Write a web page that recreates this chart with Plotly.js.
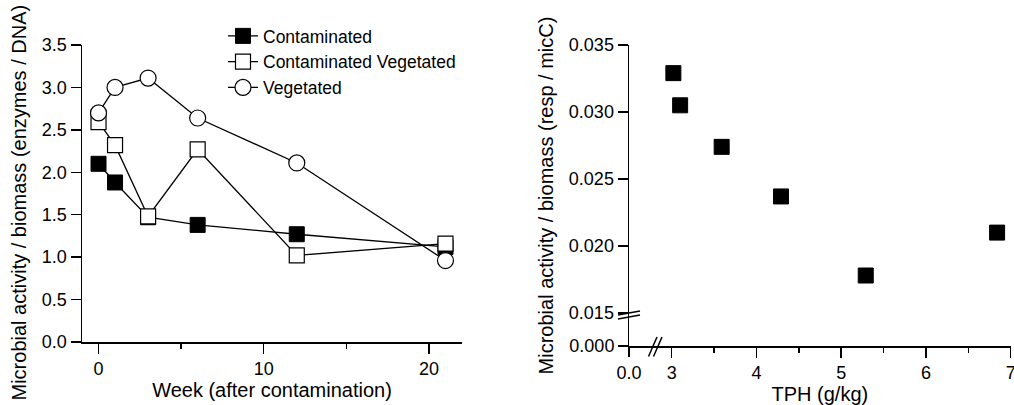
<!DOCTYPE html>
<html><head><meta charset="utf-8">
<script src="https://cdn.plot.ly/plotly-3.0.1.min.js"></script>
<style>html,body{margin:0;padding:0;background:#fff}#chart{width:1014px;height:405px}</style>
</head><body><div id="chart"></div>
<script>
// ---- data ----
const weeks = [0, 1, 3, 6, 12, 21];
const contaminated = [2.10, 1.88, 1.47, 1.38, 1.27, 1.12];
const contaminatedVegetated = [2.59, 2.32, 1.48, 2.27, 1.02, 1.16];
const vegetated = [2.70, 3.00, 3.11, 2.64, 2.11, 0.96];
const seriesNames = ['Contaminated', 'Contaminated Vegetated', 'Vegetated'];
const tph = [3.02, 3.10, 3.59, 4.29, 5.29, 6.84];
const activityRatio = [0.0329, 0.0305, 0.0274, 0.0237, 0.0178, 0.0210];
const leftXTitle = 'Week (after contamination)';
const leftYTitle = 'Microbial activity / biomass (enzymes / DNA)';
const rightXTitle = 'TPH (g/kg)';
const rightYTitle = 'Microbial activity / biomass (resp / micC)';

// ---- layout helpers ----
const W = 1014, H = 405;
const fx = p => p / W;
const fy = p => 1 - p / H;
const FONT = 'Liberation Sans, Arial, sans-serif';
const INK = '#000';

function axisBase(extra) {
  return Object.assign({
    showline: true, linecolor: INK, linewidth: 1.5,
    ticks: 'outside', ticklen: 10, tickwidth: 1.5, tickcolor: INK,
    showgrid: false, zeroline: false, fixedrange: true,
    ticklabeloverflow: 'allow',
    tickfont: {family: FONT, size: 18, color: INK}
  }, extra);
}
const lineStyle = {color: INK, width: 1.3};

const traces = [
  {x: weeks, y: contaminated, name: seriesNames[0], type: 'scatter', mode: 'lines+markers',
   line: lineStyle, marker: {symbol: 'square', size: 15, color: INK, line: {color: INK, width: 1}},
   xaxis: 'x', yaxis: 'y'},
  {x: weeks, y: contaminatedVegetated, name: seriesNames[1], type: 'scatter', mode: 'lines+markers',
   line: lineStyle, marker: {symbol: 'square', size: 15, color: '#fff', line: {color: INK, width: 1.2}},
   xaxis: 'x', yaxis: 'y'},
  {x: weeks, y: vegetated, name: seriesNames[2], type: 'scatter', mode: 'lines+markers',
   line: lineStyle, marker: {symbol: 'circle', size: 16, color: '#fff', line: {color: INK, width: 1.2}},
   xaxis: 'x', yaxis: 'y'},
  {x: tph, y: activityRatio, type: 'scatter', mode: 'markers', showlegend: false,
   marker: {symbol: 'square', size: 15, color: INK, line: {color: INK, width: 1}},
   xaxis: 'x2', yaxis: 'y2'},
  {x: [], y: [], type: 'scatter', mode: 'markers', showlegend: false, hoverinfo: 'skip',
   xaxis: 'x3', yaxis: 'y3'}
];

const titleFont = {family: FONT, size: 20, color: INK};

const layout = {
  width: W, height: H,
  margin: {l: 0, r: 0, t: 0, b: 0},
  paper_bgcolor: '#fff', plot_bgcolor: 'rgba(0,0,0,0)',
  font: {family: FONT, color: INK},
  showlegend: true,
  legend: {x: fx(223), y: fy(18), xanchor: 'left', yanchor: 'top',
           bgcolor: 'rgba(0,0,0,0)', font: {family: FONT, size: 17.5, color: INK},
           tracegroupgap: 0},
  xaxis: axisBase({domain: [fx(82), fx(462)], range: [-1, 22], anchor: 'y',
    tick0: 0, dtick: 10,
    minor: {tick0: 0, dtick: 5, ticks: 'outside', ticklen: 5, tickwidth: 1.5, tickcolor: INK, showgrid: false},
    title: {text: leftXTitle, font: titleFont, standoff: 2}}),
  yaxis: axisBase({domain: [fy(342), fy(45)], range: [0, 3.5], anchor: 'x',
    tick0: 0, dtick: 0.5, tickformat: '.1f'}),
  xaxis2: axisBase({domain: [fx(629), fx(1010.7)], range: [2.4965, 7.0005], anchor: 'y2',
    tick0: 0, dtick: 1,
    minor: {tick0: 0, dtick: 0.5, ticks: 'outside', ticklen: 5, tickwidth: 1.5, tickcolor: INK, showgrid: false},
    title: {text: rightXTitle, font: titleFont, standoff: 2}}),
  yaxis2: axisBase({domain: [fy(346), fy(45)], range: [0.01254, 0.035], anchor: 'x2',
    tick0: 0, dtick: 0.005, tickformat: '.3f',
    title: {text: rightYTitle, font: titleFont, standoff: 10}}),
  xaxis3: axisBase({domain: [fx(629), fx(652)], range: [0, 1], anchor: 'y3',
    showline: false, tickvals: [0], tickformat: '.1f'}),
  yaxis3: axisBase({domain: [fy(346), fy(318)], range: [0, 1], anchor: 'x3',
    showline: false, tickvals: [0], tickformat: '.3f'}),
  annotations: [
    {text: leftYTitle, xref: 'paper', yref: 'paper', x: fx(18), y: fy(202.5),
     xanchor: 'center', yanchor: 'middle', textangle: -90, showarrow: false, font: titleFont}
  ],
  shapes: [
    // y-axis break marks
    {type: 'line', xref: 'paper', yref: 'paper', x0: fx(618), y0: fy(315), x1: fx(640), y1: fy(311), line: {color: INK, width: 1.5}},
    {type: 'line', xref: 'paper', yref: 'paper', x0: fx(618), y0: fy(319), x1: fx(640), y1: fy(315), line: {color: INK, width: 1.5}},
    // x-axis break marks
    {type: 'line', xref: 'paper', yref: 'paper', x0: fx(648.5), y0: fy(356.5), x1: fx(657), y1: fy(337), line: {color: INK, width: 1.5}},
    {type: 'line', xref: 'paper', yref: 'paper', x0: fx(653.5), y0: fy(356.5), x1: fx(662), y1: fy(337), line: {color: INK, width: 1.5}}
  ]
};

Plotly.newPlot('chart', traces, layout, {staticPlot: true, displayModeBar: false});
</script>
</body></html>
